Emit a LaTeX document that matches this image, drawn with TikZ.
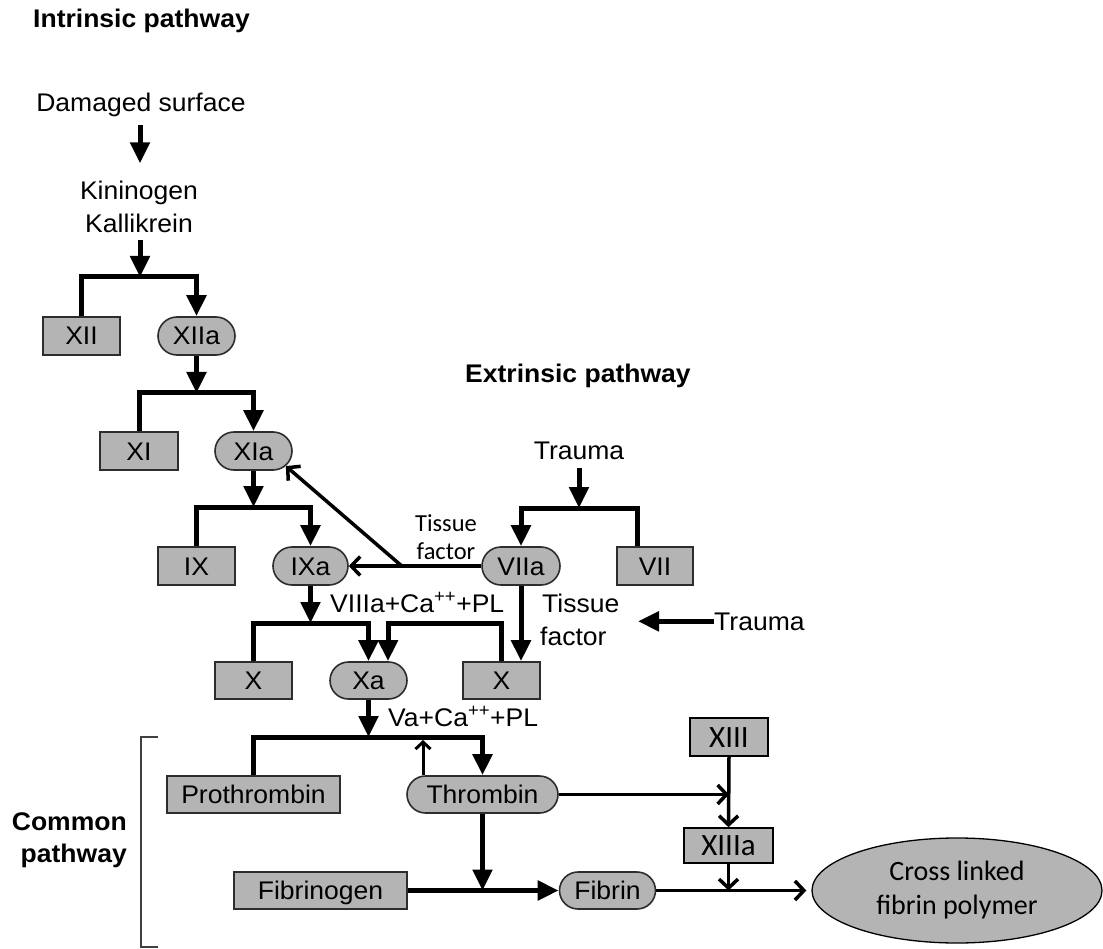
\documentclass[tikz,border=0pt]{standalone}
\usepackage{fontspec}
\setmainfont{Liberation Sans}[FakeStretch=1.04]
\newfontfamily\calibrifont{Carlito}
\usetikzlibrary{arrows.meta,shapes.misc,shapes.geometric,calc}
\definecolor{boxgray}{RGB}{180,180,180}
\definecolor{edgegray}{RGB}{45,45,45}
\newcommand\fs{\fontsize{25.5pt}{30pt}\selectfont}
\newcommand\fsb{\fontsize{25.5pt}{30pt}\selectfont\bfseries}
\newcommand\cfs{\calibrifont\fontsize{31pt}{36pt}\selectfont}
\newcommand\cfsm{\calibrifont\fontsize{24.5pt}{29pt}\selectfont}
\newcommand\cfsl{\calibrifont\fontsize{28pt}{34pt}\selectfont}
\tikzset{
  basebox/.style={draw=edgegray, line width=1.6pt, fill=boxgray, inner sep=0pt,
    font=\fs, text height=18pt, text depth=0pt},
  box/.style={basebox, rectangle},
  pill/.style={basebox, rounded rectangle},
  cbox/.style={draw=black, line width=1.6pt, fill=boxgray, inner sep=0pt,
    font=\cfs, text height=20pt, text depth=0pt, rectangle},
  lbl/.style={inner sep=0pt, font=\fs},
  thk/.style={line width=5pt},
  thkarr/.style={thk, -{Triangle[length=21pt,width=19pt]}},
  thnarr/.style={line width=3.5pt, -{Straight Barb[length=9pt,width=19pt]}},
  thnarrs/.style={line width=3pt, -{Straight Barb[length=7pt,width=15pt]}},
}
\begin{document}
\begin{tikzpicture}[x=1pt,y=-1pt]
\fill[white] (0,0) rectangle (1103,949);
\useasboundingbox (0,0) rectangle (1103,949);

% ---------- intrinsic pathway ----------
\node[lbl, font=\fsb, anchor=base west] (intr) at (33,28) {Intrinsic pathway};
\node[lbl, anchor=base] (dmg) at (141,112) {Damaged surface};
\node[lbl, anchor=base] (kin1) at (139,200) {Kininogen};
\node[lbl, anchor=base] (kin2) at (139,233) {Kallikrein};

\node[box,  minimum width=77pt, minimum height=38pt] (XII)  at (81.5,336) {XII};
\node[pill, minimum width=77pt, minimum height=38pt] (XIIa) at (196.5,336) {XIIa};
\node[box,  minimum width=78pt, minimum height=38pt] (XI)   at (139,451) {XI};
\node[pill, minimum width=77pt, minimum height=38pt] (XIa)  at (253.5,451) {XIa};
\node[box,  minimum width=77pt, minimum height=38pt] (IX)   at (196.5,566) {IX};
\node[pill, minimum width=75pt, minimum height=38pt] (IXa)  at (310.5,566) {IXa};

\coordinate (b1) at (140,277);
\coordinate (b2) at (196.5,393);
\coordinate (b3) at (253.5,507);
\coordinate (b4) at (310.5,623);

\draw[thkarr, shorten <=8pt, shorten >=18pt] (dmg.south -| b1) -- (kin1.north -| b1);
\draw[thkarr, shorten <=7pt] (kin2.south -| b1) -- (b1);
\draw[thkarr] (XII.north) |- (b1) -| (XIIa.north);
\draw[thkarr] (XIIa.south) -- (b2);
\draw[thkarr] (XI.north) |- (b2) -| (XIa.north);
\draw[thkarr] (XIa.south) -- (b3);
\draw[thkarr] (IX.north) |- (b3) -| (IXa.north);
\draw[thkarr] (IXa.south) -- (b4);

\node[lbl, anchor=base west] (c8) at (330,612) {VIIIa+Ca\textsuperscript{++}+PL};

% ---------- X row ----------
\node[box,  minimum width=77pt, minimum height=37pt] (Xl) at (253.5,680.5) {X};
\node[pill, minimum width=77pt, minimum height=37pt] (Xa) at (368.5,680.5) {Xa};
\node[box,  minimum width=77pt, minimum height=37pt] (Xr) at (501.5,680.5) {X};

\draw[thkarr] (Xl.north) |- (b4) -| (Xa.north);
\draw[thkarr] (Xr.north) |- ([xshift=19.5pt]Xa.north |- b4) -- ([xshift=19.5pt]Xa.north);

% ---------- extrinsic pathway ----------
\node[lbl, font=\fsb, anchor=base west] (extr) at (465,383) {Extrinsic pathway};
\node[lbl, anchor=base] (tr1) at (579,459) {Trauma};
\node[pill, minimum width=78pt, minimum height=38pt] (VIIa) at (521,566) {VIIa};
\node[box,  minimum width=76pt, minimum height=38pt] (VII)  at (655,566) {VII};
\coordinate (b5) at (579,508);
\draw[thkarr, shorten <=9pt] (tr1.south) -- (b5);
\draw[thkarr] (b5) -| (VIIa.north);
\draw[thk] (b5) -| ([xshift=-18pt]VII.north);

\draw[thkarr] (VIIa.south) -- (VIIa.south |- Xr.north);

\node[lbl, anchor=base west] (tf2a) at (542,612) {Tissue};
\node[lbl, anchor=base west] (tf2b) at (540,645) {factor};

\node[lbl, anchor=base west] (tr2) at (714,630) {Trauma};
\coordinate (t2end) at (638,623);
\draw[thkarr] (tr2.west) -- (t2end |- tr2.west);

\node[lbl, font=\cfsm, anchor=base] (tf1a) at (446,531) {Tissue};
\node[lbl, font=\cfsm, anchor=base] (tf1b) at (446,559) {factor};

\coordinate (dg) at ($(IXa.east)!0.4!(VIIa.west)$);
\draw[thnarr] (VIIa.west) -- (IXa.east);
\draw[thnarr] (dg) -- (XIa.-25);

% ---------- common pathway ----------
\node[lbl, anchor=base west] (c5) at (388,726) {Va+Ca\textsuperscript{++}+PL};
\coordinate (b6) at (368.5,737);
\draw[thkarr] (Xa.south) -- (b6);

\node[box,  minimum width=173pt, minimum height=37pt] (proth) at (253.5,794.5) {Prothrombin};
\node[pill, minimum width=151pt, minimum height=37pt] (throm) at (482.5,794.5) {Thrombin};
\draw[thkarr] (proth.north) |- (b6) -| (throm.north);
\draw[thnarrs, shorten >=3pt] ([xshift=-59.5pt]throm.north) -- ([xshift=-59.5pt]throm.north |- b6);

\node[box,  minimum width=173pt, minimum height=37pt] (fgen) at (320.5,890.5) {Fibrinogen};
\node[pill, minimum width=96pt,  minimum height=37pt] (fib)  at (607.5,890.5) {Fibrin};
\draw[thkarr] (throm.south) -- (throm.south |- fgen.east);
\draw[thkarr] (fgen.east) -- (fib.west);

\node[cbox, minimum width=78pt, minimum height=38pt] (XIII)  at (729,737) {XIII};
\node[cbox, minimum width=89pt, minimum height=35pt] (XIIIa) at (728.5,845.5) {XIIIa};
\node[draw=black, line width=1.3pt, fill=boxgray, ellipse, inner sep=0pt,
      minimum width=290pt, minimum height=105pt, align=center, font=\cfsl]
      (poly) at (957,890.5) {Cross linked\\fibrin polymer};

\draw[thnarr] (throm.east) -- (XIII.south |- throm.east);
\draw[thnarr] (XIII.south) -- (XIIIa.north);
\draw[thnarr] (XIIIa.south) -- (XIIIa.south |- fib.east);
\draw[thnarr, shorten >=5pt] (fib.east) -- (poly.west);

% bracket and label
\draw[line width=2pt, draw=black!75] (158,737) -- (141,737) -- (141,947) -- (158,947);
\node[lbl, font=\fsb, anchor=base east] (cp1) at (127,830) {Common};
\node[lbl, font=\fsb, anchor=base east] (cp2) at (127,862) {pathway};
\end{tikzpicture}
\end{document}
